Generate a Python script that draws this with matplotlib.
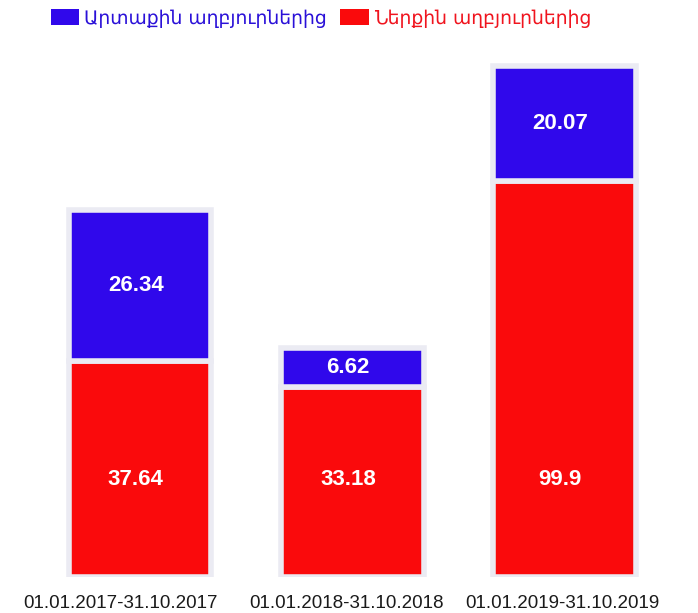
import numpy as np
import matplotlib
matplotlib.use("Agg")
import matplotlib.pyplot as plt
from matplotlib.patches import Patch
from matplotlib.transforms import ScaledTranslation

# ---- data ----
categories = ["01.01.2017-31.10.2017", "01.01.2018-31.10.2018", "01.01.2019-31.10.2019"]
internal = [37.64, 33.18, 99.9]      # Ներքին աղբյուրներից
external = [26.34, 6.62, 20.07]      # Արտաքին աղբյուրներից
series_names = ["Արտաքին աղբյուրներից", "Ներքին աղբյուրներից"]

BLUE = "#3008EB"
RED = "#FA0A0C"
EDGE = "#ebebf3"

# piecewise-linear (broken) value axis, as in the original infographic
bp_data = np.array([-100.0, 0.0, 64.0, 99.9, 400.0])
bp_disp = np.array([-100.0, 0.0, 64.0, 69.0, 369.1])

def fwd(y):
    return np.interp(y, bp_data, bp_disp)

def inv(y):
    return np.interp(y, bp_disp, bp_data)

W, H = 698, 613
fig = plt.figure(figsize=(W / 100, H / 100), dpi=100)
fig.patch.set_facecolor("white")
ax = fig.add_axes([0, 36 / H, 1, 577 / H])
ax.set_facecolor("none")
ax.set_yscale("function", functions=(fwd, inv))

x = np.arange(len(categories))
bw = 0.672
ax.bar(x, internal, width=bw, color=RED, edgecolor=EDGE, linewidth=4, zorder=2)
ax.bar(x, external, width=bw, bottom=internal, color=BLUE, edgecolor=EDGE,
       linewidth=4, zorder=2)

ax.set_xlim(-0.66, 2.629)
ax.set_ylim(0, inv(fwd(0) + 100.5))

lab_font = dict(family="Liberation Sans", fontsize=16, fontweight="bold",
                color="white", ha="center", va="center", zorder=3)
red_label_y = 16.9
for i in range(len(categories)):
    ax.text(x[i] - 0.02, red_label_y, f"{internal[i]:g}", **lab_font)
    top_mid = inv((fwd(internal[i]) + fwd(internal[i] + external[i])) / 2)
    ax.text(x[i] - 0.02, top_mid, f"{external[i]:g}", **lab_font)

ax.set_xticks(x)
ax.set_xticklabels(categories, family="Liberation Sans", fontsize=13.5,
                   color="#1a1a1a")
ax.tick_params(axis="x", length=0, pad=13)
shifts = [-20, -6, -2]
for lbl, dx in zip(ax.get_xticklabels(), shifts):
    lbl.set_transform(lbl.get_transform() + ScaledTranslation(dx / 100, 0, fig.dpi_scale_trans))
ax.set_yticks([])
for s in ax.spines.values():
    s.set_visible(False)

handles = [Patch(facecolor=BLUE, edgecolor="none"),
           Patch(facecolor=RED, edgecolor="none")]
leg = fig.legend(handles, series_names, loc="upper left",
                 bbox_to_anchor=(47 / W, 1 - 5 / H), ncol=2, frameon=False,
                 prop=dict(family="DejaVu Sans", size=13.5),
                 handlelength=1.5, handleheight=0.95, handletextpad=0.3,
                 columnspacing=0.7, borderaxespad=0, borderpad=0.2)
for t, c in zip(leg.get_texts(), ["#2A10D8", "#F0141E"]):
    t.set_color(c)

fig.savefig("out.png", dpi=100)
